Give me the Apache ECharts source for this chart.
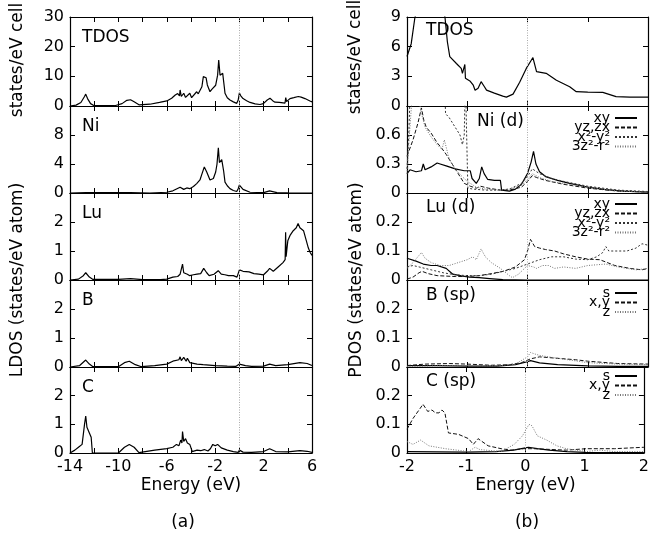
<!DOCTYPE html>
<html>
<head>
<meta charset="utf-8">
<script src="https://cdn.jsdelivr.net/npm/echarts@6/dist/echarts.min.js"></script>
<style>html,body{margin:0;padding:0;background:#fff}#main{width:652px;height:533px}</style>
</head>
<body>
<div id="main"></div>
<script>
// ---- (a) LDOS, energy -14..6 eV : [E, states]
var tdosA = [[-14,0],[-13.5,0.3],[-13.1,1.2],[-12.8,3.2],[-12.7,4.0],[-12.55,2.5],[-12.3,0.8],[-12.0,0.1],[-10.3,0.1],[-9.7,0.8],[-9.3,1.9],[-9.0,2.1],[-8.7,1.4],[-8.3,0.4],[-7.4,0.6],[-6.6,1.2],[-6.0,1.7],[-5.6,2.6],[-5.3,3.7],[-5.1,4.2],[-4.95,3.4],[-4.9,5.4],[-4.8,3.2],[-4.6,4.3],[-4.45,2.9],[-4.3,3.2],[-4.1,4.3],[-3.95,2.8],[-3.8,3.2],[-3.53,4.8],[-3.4,4.1],[-3.26,4.4],[-3.1,6.5],[-2.98,9.9],[-2.84,10.4],[-2.75,9.5],[-2.65,7.1],[-2.43,4.8],[-2.3,5.5],[-2.15,5.3],[-1.96,7.0],[-1.8,10.4],[-1.71,15.5],[-1.6,10.4],[-1.5,10.0],[-1.38,11.0],[-1.25,6.5],[-1.19,4.3],[-1.0,2.8],[-0.78,2.0],[-0.5,1.4],[-0.22,0.9],[-0.1,2.0],[0,4.4],[0.1,3.5],[0.3,2.5],[0.6,1.8],[0.88,1.2],[1.3,0.7],[1.7,0.5],[1.98,0.8],[2.3,2.0],[2.53,2.6],[2.75,1.8],[2.94,1.3],[3.3,1.2],[3.77,1.0],[3.83,2.8],[3.9,1.5],[4.18,2.5],[4.5,2.8],[4.87,3.2],[5.1,3.0],[5.42,2.5],[5.83,1.7],[6,1.4]];
var niA = [[-14,0],[-12.7,0.05],[-9,0.05],[-7.4,0],[-6.0,0.1],[-5.5,0.3],[-5.2,0.55],[-4.9,0.8],[-4.6,0.5],[-4.35,0.7],[-4.1,0.6],[-3.8,0.9],[-3.53,1.3],[-3.26,1.8],[-3.1,2.6],[-2.9,3.6],[-2.8,3.5],[-2.7,2.9],[-2.43,1.8],[-2.15,2.0],[-1.96,2.9],[-1.85,4.0],[-1.74,6.25],[-1.65,4.2],[-1.55,4.3],[-1.46,4.6],[-1.3,3.0],[-1.19,1.5],[-1.0,1.0],[-0.78,0.6],[-0.5,0.35],[-0.22,0.2],[-0.1,0.6],[0,1.1],[0.3,0.5],[0.88,0.1],[2.0,0.05],[2.5,0.3],[3.1,0.05],[4,0.02],[6,0]];
var luA = [[-14,0],[-13.3,0.03],[-12.9,0.15],[-12.7,0.25],[-12.4,0.1],[-12.1,0.02],[-10,0.02],[-9,0.05],[-8,0.01],[-6.5,0.01],[-6,0.03],[-5.5,0.1],[-5.1,0.12],[-4.9,0.2],[-4.75,0.15],[-4.7,0.55],[-4.6,0.25],[-4.3,0.2],[-4.1,0.15],[-3.8,0.18],[-3.5,0.2],[-3.2,0.22],[-2.95,0.4],[-2.7,0.25],[-2.5,0.15],[-2.1,0.2],[-1.75,0.32],[-1.5,0.2],[-1.2,0.18],[-0.9,0.15],[-0.5,0.15],[-0.2,0.1],[0,0.35],[0.3,0.3],[0.8,0.28],[1.2,0.22],[1.6,0.2],[2.0,0.18],[2.3,0.3],[2.5,0.4],[2.8,0.3],[3.2,0.45],[3.6,0.6],[3.78,0.7],[3.82,1.65],[3.86,0.8],[4.0,1.35],[4.2,1.55],[4.45,1.7],[4.7,1.8],[4.85,1.95],[5.0,1.8],[5.3,1.7],[5.5,1.4],[5.7,1.1],[5.85,0.95],[6,0.85]];
var bA = [[-14,0],[-13.2,0.05],[-12.7,0.24],[-12.4,0.1],[-12.1,0.01],[-10,0.01],[-9.5,0.15],[-9.1,0.2],[-8.6,0.08],[-8.1,0.01],[-7,0.05],[-6,0.1],[-5.5,0.2],[-5,0.25],[-4.9,0.35],[-4.8,0.22],[-4.6,0.33],[-4.4,0.2],[-4.3,0.3],[-4.1,0.15],[-3.5,0.1],[-3,0.08],[-2,0.05],[-1,0.03],[-0.3,0.02],[0,0.1],[0.5,0.05],[1,0.02],[2,0.03],[2.5,0.1],[3,0.05],[4,0.08],[5,0.15],[5.6,0.12],[6,0.05]];
var cA = [[-14,0],[-13.6,0.1],[-13.3,0.2],[-13.0,0.3],[-12.8,1.0],[-12.7,1.29],[-12.6,0.9],[-12.4,0.7],[-12.25,0.55],[-12.15,0],[-10,0],[-9.5,0.2],[-9.1,0.3],[-8.7,0.2],[-8.3,0.01],[-7,0.1],[-6,0.15],[-5.5,0.2],[-5.2,0.3],[-5.0,0.25],[-4.85,0.45],[-4.75,0.35],[-4.7,0.75],[-4.6,0.4],[-4.45,0.5],[-4.3,0.35],[-4.1,0.3],[-3.9,0.05],[-3.5,0.1],[-3.2,0.08],[-2.9,0.12],[-2.6,0.07],[-2.4,0.15],[-2.2,0.3],[-2.0,0.25],[-1.8,0.3],[-1.5,0.18],[-1.0,0.1],[-0.5,0.05],[-0.1,0.02],[0,0.1],[0.3,0.03],[1,0.02],[2,0.05],[2.5,0.15],[3,0.05],[4,0.04],[5,0.08],[5.6,0.06],[6,0.02]];

// ---- (b) PDOS, energy -2..2 eV
var tdosB = [[-2,5.0],[-1.98,5.2],[-1.93,6.3],[-1.87,8.9],[-1.8,10.5],[-1.6,12],[-1.45,10.5],[-1.37,9],[-1.33,6.5],[-1.29,5.0],[-1.18,4.3],[-1.1,3.8],[-1.08,3.3],[-1.05,3.5],[-1.04,4.2],[-1.03,2.8],[-0.95,2.5],[-0.9,2.1],[-0.87,1.6],[-0.82,1.8],[-0.77,2.46],[-0.72,2.0],[-0.68,1.6],[-0.55,1.3],[-0.41,1.0],[-0.35,0.9],[-0.24,1.2],[-0.13,2.4],[-0.02,3.8],[0.05,4.5],[0.09,4.9],[0.15,3.47],[0.31,3.3],[0.48,2.6],[0.7,1.95],[0.81,1.45],[1.0,1.4],[1.25,1.38],[1.47,0.95],[1.7,0.9],[2,0.9]];
var niXY = [[-2,0.2],[-1.95,0.24],[-1.85,0.22],[-1.76,0.23],[-1.73,0.3],[-1.7,0.24],[-1.6,0.27],[-1.5,0.31],[-1.45,0.3],[-1.35,0.28],[-1.2,0.25],[-1.05,0.23],[-0.95,0.23],[-0.92,0.15],[-0.85,0.1],[-0.8,0.15],[-0.76,0.27],[-0.72,0.2],[-0.66,0.14],[-0.55,0.13],[-0.45,0.13],[-0.43,0.03],[-0.3,0.02],[-0.2,0.04],[-0.1,0.09],[0,0.2],[0.06,0.32],[0.1,0.43],[0.14,0.3],[0.2,0.22],[0.3,0.17],[0.5,0.13],[0.7,0.1],[1,0.06],[1.3,0.035],[1.6,0.02],[2,0.01]];
var niYZ = [[-2,0.38],[-1.9,0.55],[-1.82,0.72],[-1.76,0.88],[-1.72,0.75],[-1.68,0.68],[-1.6,0.62],[-1.5,0.52],[-1.42,0.46],[-1.35,0.4],[-1.25,0.3],[-1.15,0.2],[-1.05,0.1],[-0.95,0.07],[-0.85,0.05],[-0.78,0.07],[-0.65,0.05],[-0.45,0.03],[-0.3,0.03],[-0.1,0.06],[0,0.12],[0.08,0.18],[0.15,0.16],[0.3,0.13],[0.6,0.09],[1,0.05],[1.5,0.02],[2,0.01]];
var niX2 = [[-2,0.25],[-1.97,0.6],[-1.94,1.2],[-1.8,1.5],[-1.5,1.5],[-1.38,1.2],[-1.36,0.82],[-1.3,0.78],[-1.2,0.68],[-1.12,0.6],[-1.08,0.5],[-1.05,0.6],[-1.03,1.2],[-1.01,0.6],[-0.99,0.05],[-0.9,0.04],[-0.7,0.03],[-0.5,0.03],[-0.3,0.04],[-0.1,0.1],[0,0.17],[0.08,0.25],[0.2,0.2],[0.4,0.15],[0.6,0.12],[1,0.07],[1.5,0.03],[2,0.015]];
var niZ2 = [[-2,0.2],[-1.96,0.6],[-1.92,0.95],[-1.8,0.95],[-1.75,0.8],[-1.7,0.68],[-1.6,0.58],[-1.5,0.5],[-1.42,0.45],[-1.38,0.55],[-1.3,0.35],[-1.2,0.25],[-1.1,0.18],[-1,0.12],[-0.85,0.06],[-0.7,0.04],[-0.5,0.03],[-0.3,0.04],[-0.1,0.08],[0,0.14],[0.08,0.2],[0.2,0.16],[0.4,0.12],[0.6,0.1],[1,0.06],[1.5,0.02],[2,0.01]];
var luXY = [[-2,0.075],[-1.85,0.065],[-1.73,0.055],[-1.6,0.05],[-1.5,0.05],[-1.35,0.04],[-1.24,0.02],[-1.1,0.014],[-0.96,0.01],[-0.8,0.008],[-0.63,0.005],[-0.41,0.001],[0,0],[1,0],[2,0]];
var luYZ = [[-2,0.003],[-1.9,0.01],[-1.8,0.025],[-1.75,0.03],[-1.65,0.022],[-1.5,0.015],[-1.2,0.012],[-1.0,0.012],[-0.8,0.015],[-0.6,0.022],[-0.4,0.03],[-0.2,0.045],[-0.05,0.07],[0.0,0.1],[0.05,0.14],[0.12,0.115],[0.2,0.11],[0.3,0.105],[0.45,0.1],[0.6,0.09],[0.8,0.08],[1.0,0.072],[1.2,0.07],[1.45,0.05],[1.7,0.04],[1.9,0.035],[2,0.04]];
var luX2 = [[-2,0.045],[-1.9,0.05],[-1.8,0.045],[-1.6,0.035],[-1.4,0.025],[-1.2,0.018],[-1,0.015],[-0.8,0.015],[-0.6,0.02],[-0.4,0.03],[-0.2,0.04],[0,0.055],[0.2,0.07],[0.4,0.08],[0.6,0.08],[0.8,0.072],[1.0,0.07],[1.15,0.08],[1.25,0.095],[1.3,0.115],[1.35,0.1],[1.5,0.1],[1.65,0.1],[1.8,0.11],[1.9,0.125],[2,0.12]];
var luZ2 = [[-2,0.04],[-1.9,0.06],[-1.8,0.085],[-1.76,0.095],[-1.7,0.075],[-1.6,0.06],[-1.45,0.05],[-1.3,0.05],[-1.15,0.06],[-1.0,0.07],[-0.91,0.08],[-0.85,0.07],[-0.77,0.107],[-0.7,0.08],[-0.6,0.06],[-0.45,0.04],[-0.3,0.015],[-0.25,0.008],[-0.15,0.02],[-0.05,0.04],[0,0.05],[0.1,0.045],[0.15,0.04],[0.25,0.05],[0.35,0.05],[0.45,0.04],[0.6,0.045],[0.8,0.04],[1.0,0.05],[1.3,0.055],[1.5,0.045],[1.8,0.035],[2,0.04]];
var bS = [[-2,0.005],[-1.5,0.005],[-1,0.003],[-0.5,0.003],[-0.2,0.008],[0,0.018],[0.05,0.022],[0.2,0.014],[0.5,0.008],[1,0.004],[1.5,0.002],[2,0.002]];
var bXY = [[-2,0.005],[-1.7,0.01],[-1.3,0.012],[-1,0.01],[-0.6,0.006],[-0.3,0.008],[-0.1,0.015],[0.05,0.028],[0.2,0.035],[0.5,0.03],[0.8,0.025],[1,0.02],[1.5,0.012],[2,0.01]];
var bZ = [[-2,0.002],[-1.5,0.004],[-1,0.005],[-0.5,0.004],[-0.2,0.01],[0,0.035],[0.05,0.05],[0.12,0.045],[0.2,0.04],[0.5,0.03],[1,0.015],[1.5,0.01],[2,0.008]];
var cS = [[-2,0.005],[-1.5,0.004],[-1,0.003],[-0.5,0.005],[-0.2,0.01],[0,0.018],[0.05,0.02],[0.2,0.015],[0.4,0.01],[0.7,0.005],[1,0.002],[2,0.001]];
var cXY = [[-2,0.083],[-1.9,0.12],[-1.78,0.155],[-1.73,0.17],[-1.65,0.145],[-1.58,0.15],[-1.52,0.14],[-1.46,0.14],[-1.41,0.15],[-1.36,0.14],[-1.3,0.07],[-1.13,0.065],[-0.96,0.05],[-0.88,0.03],[-0.8,0.05],[-0.63,0.025],[-0.41,0.015],[-0.25,0.01],[-0.03,0.015],[0.14,0.015],[0.69,0.01],[1.03,0.015],[1.5,0.015],[2,0.02]];
var cZ = [[-2,0.04],[-1.9,0.03],[-1.77,0.045],[-1.63,0.025],[-1.35,0.015],[-0.96,0.005],[-0.85,0.02],[-0.77,0.012],[-0.41,0.005],[-0.19,0.03],[-0.05,0.06],[0.06,0.1],[0.11,0.095],[0.2,0.06],[0.36,0.045],[0.53,0.025],[0.69,0.015],[1.03,0.005],[1.25,0.01],[1.5,0.005],[2,0.005]];

var dLabels = ['xy', 'yz,zx', 'x²-y²', '3z²-r²'];
var spLabels = ['s', 'x,y', 'z'];
var panelA = ['TDOS', 'Ni', 'Lu', 'B', 'C'];
var panelB = ['TDOS', 'Ni (d)', 'Lu (d)', 'B (sp)', 'C (sp)'];
var yMaxA = [30, 12, 3, 3, 3], yStepA = [10, 4, 1, 1, 1];
var yMaxB = [9, 0.9, 0.3, 0.3, 0.3], yStepB = [3, 0.3, 0.1, 0.1, 0.1];

var FONT = 'DejaVu Sans';
var tops = [17, 106, 193, 280, 367];
var heights = [89, 87, 87, 87, 86];

var myChart = echarts.init(document.getElementById('main'));

var grids = [], xAxes = [], yAxes = [], series = [];
var lineAx = { show: true, onZero: false, lineStyle: { color: '#000', width: 1.2 } };
var tickIn = { inside: true, length: 5, lineStyle: { color: '#000' } };

function addPanel(col, row) {
    var g = grids.length;
    var left = col === 0 ? 70 : 407;
    var width = col === 0 ? 242 : 241;
    grids.push({ left: left, width: width, top: tops[row], height: heights[row] });
    var xmin = col === 0 ? -14 : -2, xmax = col === 0 ? 6 : 2, xstep = col === 0 ? 2 : 1;
    var ymax = col === 0 ? yMaxA[row] : yMaxB[row];
    var ystep = col === 0 ? yStepA[row] : yStepB[row];
    var bottom = row === 4;
    xAxes.push({
        gridIndex: g, type: 'value', min: xmin, max: xmax, interval: xstep,
        axisLine: lineAx, splitLine: { show: false }, axisTick: tickIn,
        axisLabel: {
            show: bottom, color: '#000', fontFamily: FONT, fontSize: 16, margin: 6,
            formatter: function (v) { return col === 0 && (v + 14) % 4 !== 0 ? '' : String(v); }
        },
        name: bottom ? 'Energy (eV)' : '', nameLocation: 'middle', nameGap: 24,
        nameTextStyle: { color: '#000', fontFamily: FONT, fontSize: 17 }
    });
    xAxes.push({
        gridIndex: g, type: 'value', position: 'top', min: xmin, max: xmax, interval: xstep,
        axisLine: lineAx, splitLine: { show: false }, axisLabel: { show: false }, axisTick: tickIn
    });
    yAxes.push({
        gridIndex: g, type: 'value', min: 0, max: ymax, interval: ystep,
        axisLine: lineAx, splitLine: { show: false }, axisTick: tickIn,
        axisLabel: {
            color: '#000', fontFamily: FONT, fontSize: 16, margin: 6,
            formatter: function (v) {
                if (row > 0 && Math.abs(v - ymax) < 1e-9) return '';
                return String(+v.toFixed(2));
            }
        }
    });
    yAxes.push({
        gridIndex: g, type: 'value', position: 'right', min: 0, max: ymax, interval: ystep,
        axisLine: lineAx, splitLine: { show: false }, axisLabel: { show: false }, axisTick: tickIn
    });
    return g;
}

var styles = [
    { color: '#000', width: 1.2, type: 'solid' },
    { color: '#111', width: 1, type: [4, 2] },
    { color: '#333', width: 1, type: [2, 2] },
    { color: '#777', width: 1, type: [1, 1.5] }
];

function addLine(g, name, data, st, withZero) {
    var s = {
        type: 'line', name: name, data: data, xAxisIndex: 2 * g, yAxisIndex: 2 * g,
        symbol: 'none', showSymbol: false, clip: true, animation: false,
        lineStyle: { color: st.color, width: st.width, type: st.type },
        itemStyle: { color: st.color }
    };
    if (withZero) {
        s.markLine = {
            silent: true, symbol: ['none', 'none'], label: { show: false }, animation: false,
            lineStyle: { color: '#aaa', width: 1, type: [1, 1.5] },
            data: [{ xAxis: 0 }]
        };
    }
    series.push(s);
}

var colA = [tdosA, niA, luA, bA, cA];
colA.forEach(function (d, row) {
    var g = addPanel(0, row);
    addLine(g, panelA[row] + ' (a)', d, styles[0], true);
});

var colB = [[tdosB], [niXY, niYZ, niX2, niZ2], [luXY, luYZ, luX2, luZ2], [bS, bXY, bZ], [cS, cXY, cZ]];
colB.forEach(function (list, row) {
    var g = addPanel(1, row);
    list.forEach(function (d, i) {
        var name = row === 0 ? 'TDOS (b)' : (row <= 2 ? dLabels[i] : spLabels[i]);
        var st = row >= 3 && i === 2 ? styles[3] : styles[i];
        addLine(g, name, d, st, i === 0);
    });
});

// one legend per entry so the rows can sit as tightly as in the scan
var legends = [];
function legendBlock(top, names, step) {
    names.forEach(function (n, i) {
        legends.push({
            orient: 'vertical', align: 'right', right: 14, top: top + i * step,
            itemWidth: 22, itemHeight: 8, padding: 0, selectedMode: false,
            itemStyle: { opacity: 0 },
            data: [n],
            textStyle: { color: '#000', fontFamily: FONT, fontSize: 14 }
        });
    });
}
legendBlock(111, dLabels, 9.5);
legendBlock(197, dLabels, 9.5);
legendBlock(286, spLabels, 9.5);
legendBlock(369, spLabels, 9.5);

var graphics = [];
function txt(x, y, text, size, rot) {
    graphics.push({
        type: 'text', x: x, y: y, rotation: rot || 0, silent: true,
        style: { text: text, fill: '#000', font: size + 'px "' + FONT + '"', textAlign: rot ? 'center' : 'left', textVerticalAlign: 'middle' }
    });
}
var labelYA = [38, 127, 214, 301, 388];
var labelYB = [31, 122, 208, 296, 382];
panelA.forEach(function (t, i) { txt(82, labelYA[i], t, 17); });
panelB.forEach(function (t, i) { txt(i === 1 ? 477 : 426, labelYB[i], t, 17); });
txt(18, 60, 'states/eV cell', 17, Math.PI / 2);
txt(18, 280, 'LDOS (states/eV atom)', 17, Math.PI / 2);
txt(356, 57, 'states/eV cell', 17, Math.PI / 2);
txt(357, 280, 'PDOS (states/eV atom)', 17, Math.PI / 2);
graphics.push({ type: 'text', x: 183, y: 523, style: { text: '(a)', fill: '#000', font: '17px "' + FONT + '"', textAlign: 'center', textVerticalAlign: 'middle' } });
graphics.push({ type: 'text', x: 527, y: 523, style: { text: '(b)', fill: '#000', font: '17px "' + FONT + '"', textAlign: 'center', textVerticalAlign: 'middle' } });

var option = {
    backgroundColor: '#fff',
    animation: false,
    grid: grids,
    xAxis: xAxes,
    yAxis: yAxes,
    legend: legends,
    graphic: graphics,
    series: series
};

myChart.setOption(option);
</script>
</body>
</html>
